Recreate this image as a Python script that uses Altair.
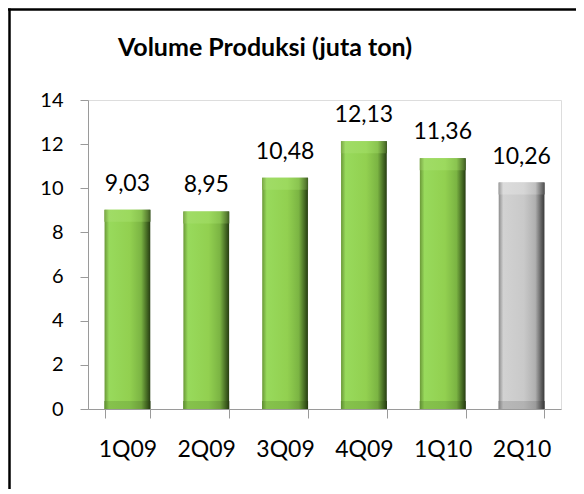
import altair as alt
import pandas as pd

categories = ["1Q09", "2Q09", "3Q09", "4Q09", "1Q10", "2Q10"]
values = [9.03, 8.95, 10.48, 12.13, 11.36, 10.26]
kinds = ["green", "green", "green", "green", "green", "gray"]
y_ticks = [0, 2, 4, 6, 8, 10, 12, 14]

df = pd.DataFrame({"q": categories, "v": values, "kind": kinds})

FONT = "Lato"
BAR_W = 46


def hgrad(c):
    return alt.Gradient(
        gradient="linear", x1=0, x2=1, y1=0, y2=0,
        stops=[alt.GradientStop(offset=o, color=col) for o, col in c],
    )


green_grad = hgrad([(0, "#6a9838"), (0.1, "#98da5c"), (0.55, "#92d050"),
                    (0.8, "#7bb443"), (0.94, "#3f6120"), (1, "#263c12")])
gray_grad = hgrad([(0, "#8c8c8c"), (0.1, "#d2d2d2"), (0.55, "#c9c9c9"),
                   (0.8, "#b0b0b0"), (0.94, "#5a5a5a"), (1, "#3a3a3a")])
green_top = hgrad([(0, "#7aa646"), (0.1, "#a0dc66"), (0.55, "#9cd95e"),
                   (0.8, "#8ac450"), (0.94, "#5a8032"), (1, "#3c5a20")])
gray_top = hgrad([(0, "#9a9a9a"), (0.1, "#dcdcdc"), (0.55, "#d6d6d6"),
                  (0.8, "#c0c0c0"), (0.94, "#707070"), (1, "#4e4e4e")])
green_bot = hgrad([(0, "#5e8c32"), (0.1, "#86c24c"), (0.55, "#80bc48"),
                   (0.8, "#6ea03c"), (0.94, "#3a5a1c"), (1, "#243810")])
gray_bot = hgrad([(0, "#7e7e7e"), (0.1, "#b8b8b8"), (0.55, "#b2b2b2"),
                  (0.8, "#9c9c9c"), (0.94, "#525252"), (1, "#363636")])

x_enc = alt.X(
    "q:N", sort=categories, title=None,
    scale=alt.Scale(paddingInner=0.42, paddingOuter=0.21),
    axis=alt.Axis(labelAngle=0, tickBand="extent", tickSize=9, labelPadding=20,
                  labelFont=FONT, labelFontSize=23, labelColor="#000000",
                  domainColor="#9a9a9a", tickColor="#9a9a9a", grid=False),
)
y_enc = alt.Y(
    "v:Q", title=None,
    scale=alt.Scale(domain=[0, 14], nice=False),
    axis=alt.Axis(values=y_ticks, tickSize=8, labelPadding=17,
                  labelFont=FONT, labelFontSize=20, labelColor="#000000",
                  domainColor="#9a9a9a", tickColor="#9a9a9a", grid=False),
)

base = alt.Chart(df)
green = base.transform_filter(alt.datum.kind == "green")
gray = base.transform_filter(alt.datum.kind == "gray")

layers = []
for sub, body, top, bot in [(green, green_grad, green_top, green_bot),
                            (gray, gray_grad, gray_top, gray_bot)]:
    layers.append(sub.mark_bar(fill=body).encode(x=x_enc, y=y_enc))
    layers.append(sub.mark_tick(fill=top, stroke=None, thickness=12, size=BAR_W,
                                yOffset=6, opacity=1).encode(x=x_enc, y=y_enc))
    layers.append(sub.mark_tick(fill=bot, stroke=None, thickness=8, size=BAR_W,
                                yOffset=-4, opacity=1).encode(
        x=x_enc, y=alt.YDatum(0)))

labels = base.transform_calculate(
    lbl="replace(format(datum.v, '.2f'), '.', ',')"
).mark_text(font=FONT, fontSize=23, dy=-19, baseline="alphabetic", color="#000000").encode(
    x=x_enc, y=y_enc, text="lbl:N"
)

one = pd.DataFrame({"a": [0]})
frame_top = alt.Chart(one).mark_rule(color="#000000", strokeWidth=2.5).encode(
    x=alt.value(-80), x2=alt.value(500), y=alt.value(-90.5))
frame_left = alt.Chart(one).mark_rule(color="#000000", strokeWidth=2.5).encode(
    x=alt.value(-78.5), y=alt.value(-91.5), y2=alt.value(420))

title = alt.Chart(pd.DataFrame({"t": ["Volume Produksi (juta ton)"]})).mark_text(
    font=FONT, fontSize=25, fontWeight="bold", color="#000000", baseline="alphabetic"
).encode(x=alt.value(177), y=alt.value(-44), text="t:N")

chart = alt.layer(*layers, labels, title, frame_top, frame_left).properties(
    width=473, height=309,
    padding={"left": 80, "top": 92, "right": 15, "bottom": 80},
    autosize=alt.AutoSizeParams(type="none"),
).configure_view(stroke=None).configure(background="#ffffff")

chart.save("out.html", embed_options={"renderer": "svg", "actions": False})
